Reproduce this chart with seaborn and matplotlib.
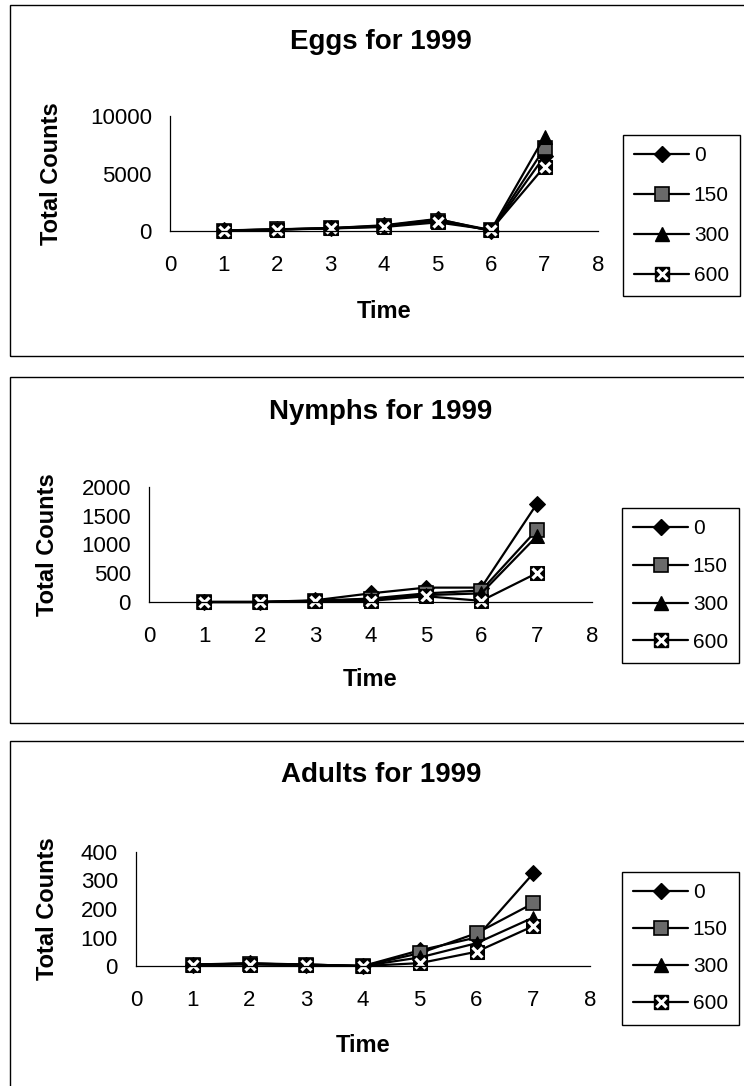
import matplotlib
matplotlib.use("Agg")
import matplotlib.pyplot as plt
from matplotlib.patches import Rectangle
from matplotlib.lines import Line2D
import seaborn as sns

sns.set_style("white")
plt.rcParams['font.family'] = ['Liberation Sans', 'DejaVu Sans']
plt.rcParams['text.color'] = 'black'
plt.rcParams['axes.labelcolor'] = 'black'
plt.rcParams['xtick.color'] = 'black'
plt.rcParams['ytick.color'] = 'black'
plt.rcParams['legend.labelcolor'] = 'black'

# ---------------- data ----------------
time = [1, 2, 3, 4, 5, 6, 7]
series_labels = ["0", "150", "300", "600"]

eggs_0 = [50, 150, 250, 500, 1050, 0, 6500]
eggs_150 = [40, 140, 230, 400, 900, 50, 7200]
eggs_300 = [40, 130, 250, 450, 1000, 80, 8200]
eggs_600 = [30, 120, 220, 350, 750, 100, 5600]

nymphs_0 = [0, 0, 30, 150, 250, 250, 1700]
nymphs_150 = [0, 0, 20, 60, 150, 200, 1250]
nymphs_300 = [0, 0, 20, 50, 120, 150, 1140]
nymphs_600 = [0, 0, 10, 20, 100, 20, 500]

adults_0 = [5, 10, 5, 0, 55, 100, 325]
adults_150 = [5, 8, 5, 0, 45, 115, 220]
adults_300 = [5, 8, 5, 0, 30, 80, 170]
adults_600 = [3, 5, 3, 0, 10, 50, 140]

titles = ["Eggs for 1999", "Nymphs for 1999", "Adults for 1999"]
y_ticks_eggs = [0, 5000, 10000]
y_ticks_nymphs = [0, 500, 1000, 1500, 2000]
y_ticks_adults = [0, 100, 200, 300, 400]
x_ticks = [0, 1, 2, 3, 4, 5, 6, 7, 8]

# ---------------- layout ----------------
W, H = 744, 1086
fig = plt.figure(figsize=(W / 100, H / 100), dpi=100)


def fx(x):
    return x / W


def fy(y):
    return 1 - y / H


panels = [
    dict(data=[eggs_0, eggs_150, eggs_300, eggs_600], yticks=y_ticks_eggs,
         ax=(170, 598, 116, 231), frame=(10, 5, 356), title_y=42, time_y=312,
         ylab_x=52, leg=(623, 135), leg_sp=1.0),
    dict(data=[nymphs_0, nymphs_150, nymphs_300, nymphs_600], yticks=y_ticks_nymphs,
         ax=(149, 592, 487, 602), frame=(10, 377, 723), title_y=412, time_y=680,
         ylab_x=47, leg=(622, 508), leg_sp=0.9),
    dict(data=[adults_0, adults_150, adults_300, adults_600], yticks=y_ticks_adults,
         ax=(136, 590, 852, 966), frame=(10, 741, 1092), title_y=775, time_y=1045,
         ylab_x=47, leg=(622, 872), leg_sp=0.86),
]

LW = 1.6
FS = 15
TICK_FS = 16
LAB_FS = 17

for i, p in enumerate(panels):
    x0, x1, yt, yb = p["ax"]
    ax = fig.add_axes([fx(x0), fy(yb), (x1 - x0) / W, (yb - yt) / H])
    ax.set_facecolor('none')
    d0, d150, d300, d600 = p["data"]

    sns.lineplot(x=time, y=d0, ax=ax, color='black', lw=LW, marker='D', ms=8.5,
                 mfc='black', mec='black', clip_on=False, legend=False)
    sns.lineplot(x=time, y=d150, ax=ax, color='black', lw=LW, marker='s', ms=9.5,
                 mfc='#6a6a6a', mec='black', mew=1.2, clip_on=False, legend=False)
    sns.lineplot(x=time, y=d300, ax=ax, color='black', lw=LW, marker='^', ms=10.5,
                 mfc='black', mec='black', clip_on=False, legend=False)
    sns.lineplot(x=time, y=d600, ax=ax, color='black', lw=LW, marker='s', ms=9.5,
                 mfc='black', mec='black', clip_on=False, legend=False)
    sns.lineplot(x=time, y=d600, ax=ax, color='white', linestyle='none', marker='x',
                 ms=7.5, mew=2.3, clip_on=False, legend=False)

    ax.set_xlim(0, 8)
    ax.set_ylim(0, p["yticks"][-1])
    ax.set_xticks(x_ticks)
    ax.set_yticks(p["yticks"])
    ax.set_xlabel("")
    ax.set_ylabel("")
    for s in ("top", "right"):
        ax.spines[s].set_visible(False)
    for s in ("left", "bottom"):
        ax.spines[s].set_color('black')
        ax.spines[s].set_linewidth(0.9)
    ax.tick_params(axis='x', direction='out', length=5, width=0.9, pad=12,
                   labelsize=TICK_FS, colors='black')
    ax.tick_params(axis='y', direction='out', length=5, width=0.9, pad=8,
                   labelsize=TICK_FS, colors='black')
    ax.grid(False)

    # frame of the chart
    fl, ft, fb = p["frame"]
    fig.add_artist(Rectangle((fx(fl), fy(fb)), (760 - fl) / W, (fb - ft) / H,
                             transform=fig.transFigure, fill=False,
                             ec='black', lw=1.0))

    # texts
    fig.text(fx(381), fy(p["title_y"]), titles[i], ha='center', va='center',
             fontsize=20, fontweight='bold', color='black')
    fig.text(fx((x0 + x1) / 2), fy(p["time_y"]), "Time", ha='center', va='center',
             fontsize=LAB_FS, fontweight='bold', color='black')
    fig.text(fx(p["ylab_x"]), fy((yt + yb) / 2), "Total Counts", ha='center',
             va='center', rotation=90, fontsize=LAB_FS, fontweight='bold', color='black')

    # legend
    h0 = Line2D([], [], color='black', lw=LW, marker='D', ms=8.5, mfc='black', mec='black')
    h150 = Line2D([], [], color='black', lw=LW, marker='s', ms=9.5, mfc='#6a6a6a',
                  mec='black', mew=1.2)
    h300 = Line2D([], [], color='black', lw=LW, marker='^', ms=10.5, mfc='black', mec='black')
    h600a = Line2D([], [], color='black', lw=LW, marker='s', ms=9.5, mfc='black', mec='black')
    h600b = Line2D([], [], color='white', linestyle='none', marker='x', ms=7.5, mew=2.3)
    lx, ly = p["leg"]
    leg = fig.legend([h0, h150, h300, (h600a, h600b)], series_labels,
                     loc='upper left', bbox_to_anchor=(fx(lx), fy(ly)),
                     bbox_transform=fig.transFigure, borderaxespad=0,
                     fontsize=FS, frameon=True, fancybox=False, shadow=False,
                     framealpha=1, edgecolor='black', handlelength=2.6,
                     handletextpad=0.25, labelspacing=p["leg_sp"], borderpad=0.55,
                     numpoints=1)
    leg.get_frame().set_linewidth(1.0)

fig.savefig("out.png", dpi=100)
